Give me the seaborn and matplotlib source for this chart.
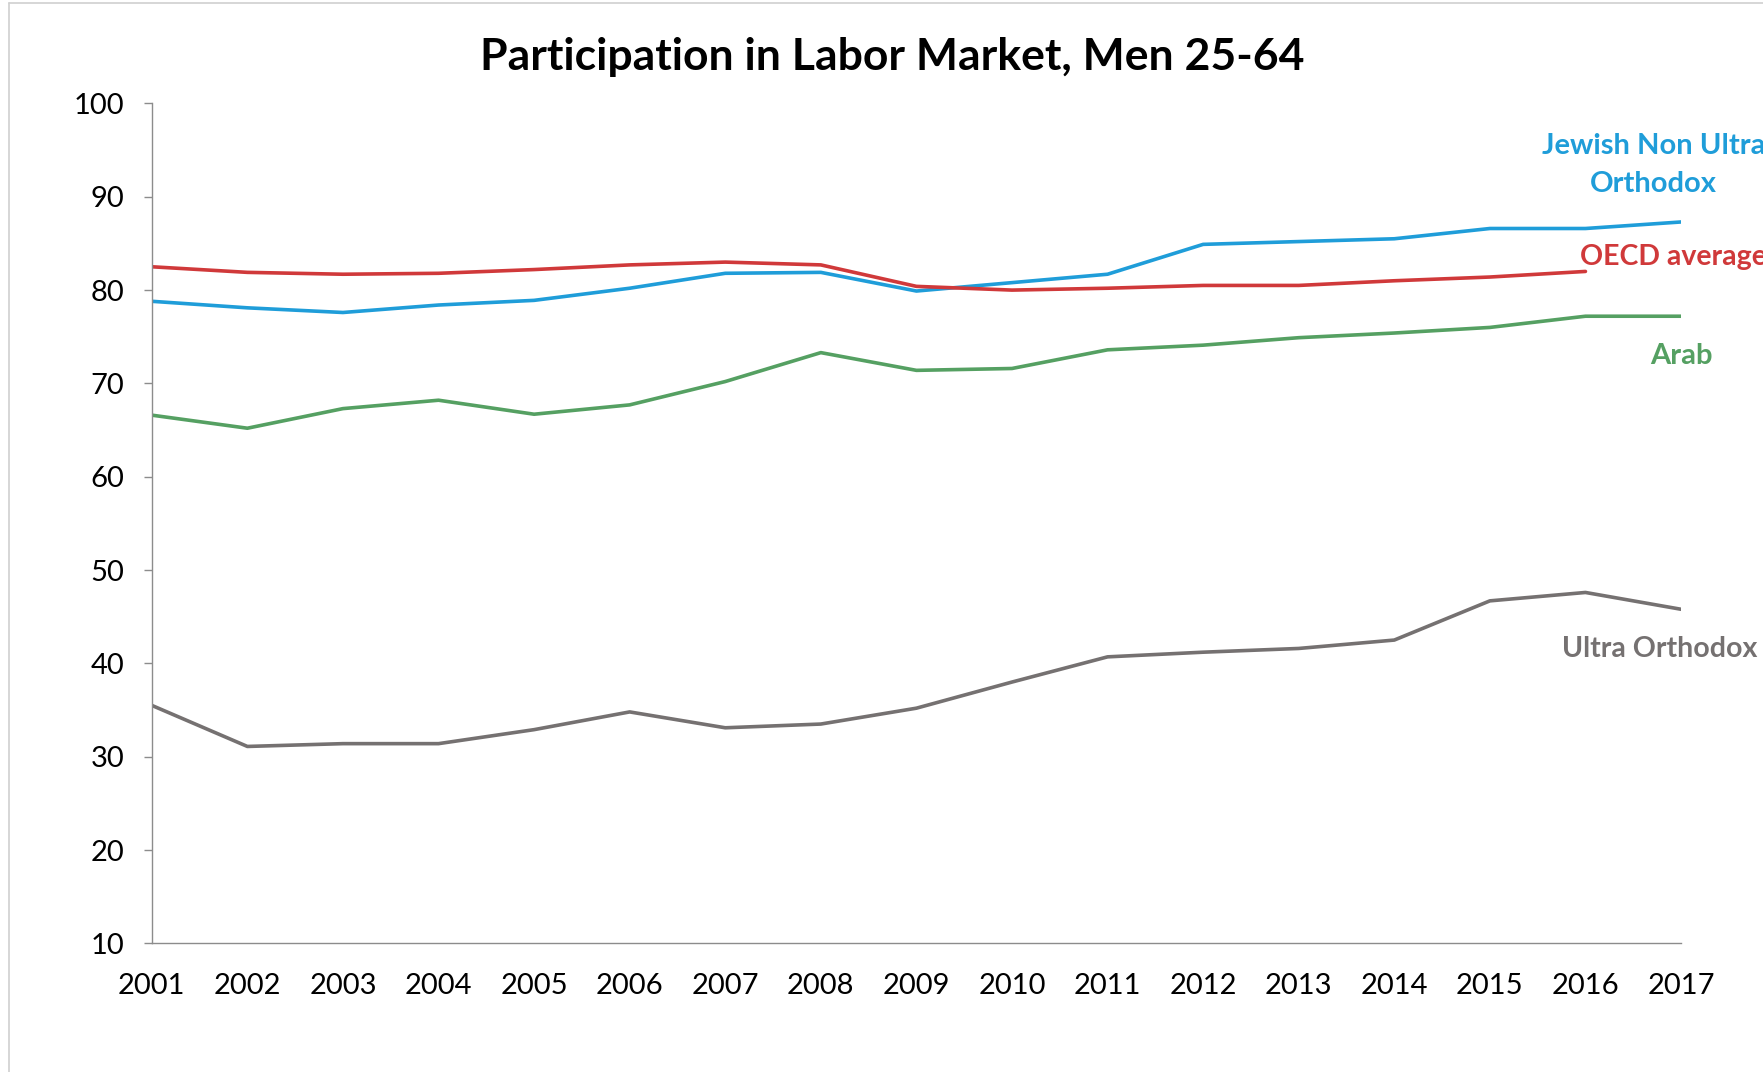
import matplotlib
matplotlib.use("Agg")
import matplotlib.pyplot as plt
import seaborn as sns
import pandas as pd
from matplotlib.lines import Line2D

years = list(range(2001, 2018))

jewish_non_ultra_orthodox = [78.8, 78.1, 77.6, 78.4, 78.9, 80.2, 81.8, 81.9, 79.9,
                             80.8, 81.7, 84.9, 85.2, 85.5, 86.6, 86.6, 87.3]
oecd_average = [82.5, 81.9, 81.7, 81.8, 82.2, 82.7, 83.0, 82.7, 80.4,
                80.0, 80.2, 80.5, 80.5, 81.0, 81.4, 82.0, None]
arab = [66.6, 65.2, 67.3, 68.2, 66.7, 67.7, 70.2, 73.3, 71.4,
        71.6, 73.6, 74.1, 74.9, 75.4, 76.0, 77.2, 77.2]
ultra_orthodox = [35.5, 31.1, 31.4, 31.4, 32.9, 34.8, 33.1, 33.5, 35.2,
                  38.0, 40.7, 41.2, 41.6, 42.5, 46.7, 47.6, 45.8]

series_names = ["Jewish Non Ultra Orthodox", "OECD average", "Arab", "Ultra Orthodox"]
series_values = [jewish_non_ultra_orthodox, oecd_average, arab, ultra_orthodox]
series_colors = ["#1F9DD9", "#D0393A", "#55A062", "#757171"]
y_ticks = [10, 20, 30, 40, 50, 60, 70, 80, 90, 100]

rows = []
for name, vals in zip(series_names, series_values):
    for yr, v in zip(years, vals):
        if v is not None:
            rows.append({"year": yr, "value": v, "group": name})
df = pd.DataFrame(rows)

sns.set_theme(style="white")
plt.rcParams["font.family"] = ["Lato", "DejaVu Sans"]

fig = plt.figure(figsize=(17.63, 10.72), dpi=100)
ax = fig.add_axes([0.0861, 0.1200, 0.9535 - 0.0861, 0.9035 - 0.1200])

sns.lineplot(data=df, x="year", y="value", hue="group", hue_order=series_names,
             palette=series_colors, linewidth=2.6, legend=False, ax=ax)

ax.set_xlim(2001, 2017)
ax.set_ylim(10, 100)
ax.set_xticks(years)
ax.set_xticklabels([str(y) for y in years])
ax.set_yticks(y_ticks)
ax.set_xlabel("")
ax.set_ylabel("")

for side in ["top", "right"]:
    ax.spines[side].set_visible(False)
for side in ["left", "bottom"]:
    ax.spines[side].set_color("#8C8C8C")
    ax.spines[side].set_linewidth(1.0)

ax.tick_params(axis="y", which="both", left=True, length=6, width=1.0,
               color="#8C8C8C", direction="out", pad=14, labelsize=21, labelcolor="black")
ax.tick_params(axis="x", which="both", bottom=False, length=0, pad=21,
               labelsize=21, labelcolor="black")

fig.text(0.506, 0.947, "Participation in Labor Market, Men 25-64",
         ha="center", va="center", fontsize=32, fontweight="bold", color="black")

label_kw = dict(fontweight="bold", transform=fig.transFigure)
fig.text(0.938, 0.846, "Jewish Non Ultra\nOrthodox", ha="center", va="center",
         color=series_colors[0], linespacing=1.55, fontsize=21, **label_kw)
fig.text(0.896, 0.760, "OECD average", ha="left", va="center",
         color=series_colors[1], fontsize=20.5, **label_kw)
fig.text(0.954, 0.668, "Arab", ha="center", va="center",
         color=series_colors[2], fontsize=21, **label_kw)
fig.text(0.886, 0.395, "Ultra Orthodox", ha="left", va="center",
         color=series_colors[3], fontsize=20.5, **label_kw)

# light outer frame of the chart area
fig.add_artist(Line2D([0.0051, 0.0051], [0.0, 0.9968], transform=fig.transFigure,
                      color="#D0D0D0", linewidth=1.2))
fig.add_artist(Line2D([0.0051, 1.0], [0.9968, 0.9968], transform=fig.transFigure,
                      color="#D0D0D0", linewidth=1.2))

fig.savefig("out.png", dpi=100, facecolor="white")
